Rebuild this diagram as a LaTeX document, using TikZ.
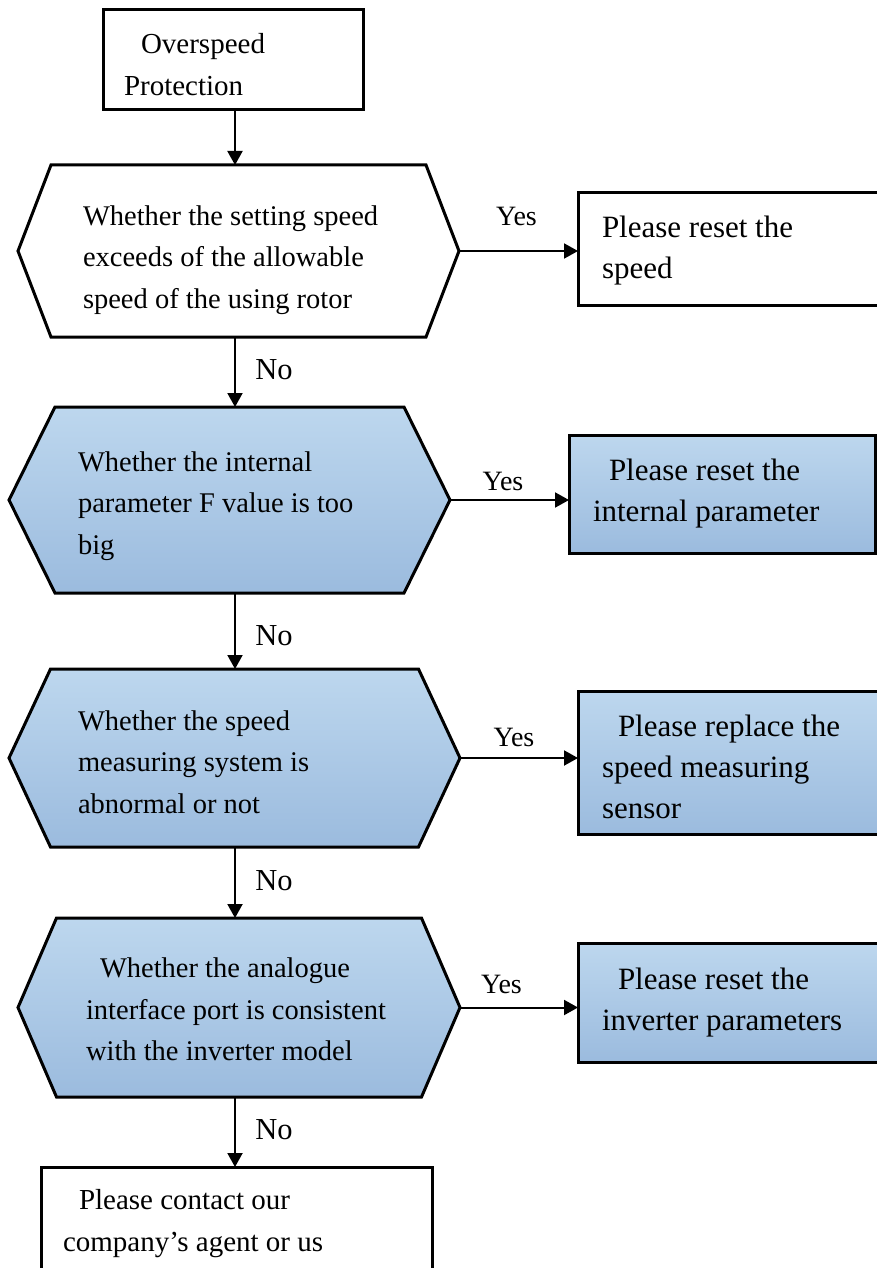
\documentclass[tikz,border=0pt]{standalone}
\usepackage{fontspec}
\setmainfont{Liberation Serif}
\usetikzlibrary{arrows.meta,backgrounds}
\definecolor{hexTop}{RGB}{189,215,238}
\definecolor{hexBot}{RGB}{155,187,222}

\begin{document}
\begin{tikzpicture}[
    x=1pt, y=-1pt,
    every node/.style={outer sep=0pt, inner sep=0pt, execute at begin node={\spaceskip=0pt\xspaceskip=0pt\relax}},
    plainbox/.style={rectangle, draw, line width=3pt, fill=white, font=\fontsize{29}{42}\selectfont},
    decision/.style={rectangle, font=\fontsize{28.5}{41.5}\selectfont},
    action/.style={rectangle, draw, line width=3pt, text width=254, minimum width=302, font=\fontsize{31}{41}\selectfont},
    actionwhite/.style={action, fill=white},
    actionblue/.style={action, top color=hexTop, bottom color=hexBot},
    hexwhite/.style={draw, line width=3pt, fill=white},
    hexblue/.style={draw, line width=3pt, top color=hexTop, bottom color=hexBot},
    flow/.style={line width=2pt, -{Triangle[length=14pt,width=15pt]}},
    yeslbl/.style={anchor=base, font=\fontsize{28}{30}\selectfont},
    nolbl/.style={anchor=base, font=\fontsize{30.5}{32}\selectfont}
]
\useasboundingbox (0,0) rectangle (877,1268);
\coordinate (spine) at (235,0);

% start and end
\node[plainbox, minimum width=260, minimum height=100, text width=218, text height=30] (top) at (233,60)
    {\hspace*{17pt}Overspeed\\Protection};
\node[plainbox, minimum width=391, minimum height=110, text width=347, text height=23.5] (done) at (236.5,1222)
    {\hspace*{16pt}Please contact our\\company’s agent or us};

% checks
\node[decision, minimum width=441, minimum height=172, text width=311, text height=37.5] (q1) at (238.5,251)
    {Whether the setting speed\\exceeds of the allowable\\speed of the using rotor};
\node[decision, minimum width=441, minimum height=186, text width=303, text height=31.5] (q2) at (229.5,500)
    {Whether the internal\\parameter F value is too\\big};
\node[decision, minimum width=451, minimum height=178, text width=313, text height=27.5] (q3) at (234.5,758)
    {Whether the speed\\measuring system is\\abnormal or not};
\node[decision, minimum width=442, minimum height=179, text width=306, text height=23.5] (q4) at (239,1007.5)
    {\hspace*{14pt}Whether the analogue\\interface port is consistent\\with the inverter model};

% actions
\node[actionwhite, minimum height=112, text height=25.5] (a1) at (729,249)
    {Please reset the\\speed};
\node[actionblue, minimum width=306, text width=258, minimum height=118, text height=21.5] (a2) at (722,494)
    {\hspace*{16pt}Please reset the\\internal parameter};
\node[actionblue, minimum height=143, text height=30.5] (a3) at (729,762.5)
    {\hspace*{16pt}Please replace the\\speed measuring\\sensor};
\node[actionblue, minimum height=119, text height=21.5] (a4) at (729,1002.5)
    {\hspace*{16pt}Please reset the\\inverter parameters};

% hexagon outlines behind the text
\begin{scope}[on background layer]
\foreach \q/\d/\s in {q1/33/hexwhite, q2/46/hexblue, q3/41.5/hexblue, q4/38.5/hexblue} {
    \draw[\s] (\q.west) -- ([xshift=\d]\q.north west) -- ([xshift=-\d]\q.north east)
        -- (\q.east) -- ([xshift=-\d]\q.south east) -- ([xshift=\d]\q.south west) -- cycle;
}
\end{scope}

% arrows down
\draw[flow] (top.south -| spine) -- (q1.north -| spine);
\draw[flow] (q1.south -| spine) -- (q2.north -| spine);
\draw[flow] (q2.south -| spine) -- (q3.north -| spine);
\draw[flow] (q3.south -| spine) -- (q4.north -| spine);
\draw[flow] (q4.south -| spine) -- (done.north -| spine);

% arrows right
\draw[flow] (q1.east) -- (q1.east -| a1.west);
\draw[flow] (q2.east) -- (q2.east -| a2.west);
\draw[flow] (q3.east) -- (q3.east -| a3.west);
\draw[flow] (q4.east) -- (q4.east -| a4.west);

% labels
\node[yeslbl] (y1) at (516.5,225) {Yes};
\node[yeslbl] (y2) at (503,490) {Yes};
\node[yeslbl] (y3) at (514,746.7) {Yes};
\node[yeslbl] (y4) at (501.5,993) {Yes};
\node[nolbl] (n1) at (274,379) {No};
\node[nolbl] (n2) at (274,645) {No};
\node[nolbl] (n3) at (274,890) {No};
\node[nolbl] (n4) at (274,1139) {No};
\end{tikzpicture}
\end{document}
